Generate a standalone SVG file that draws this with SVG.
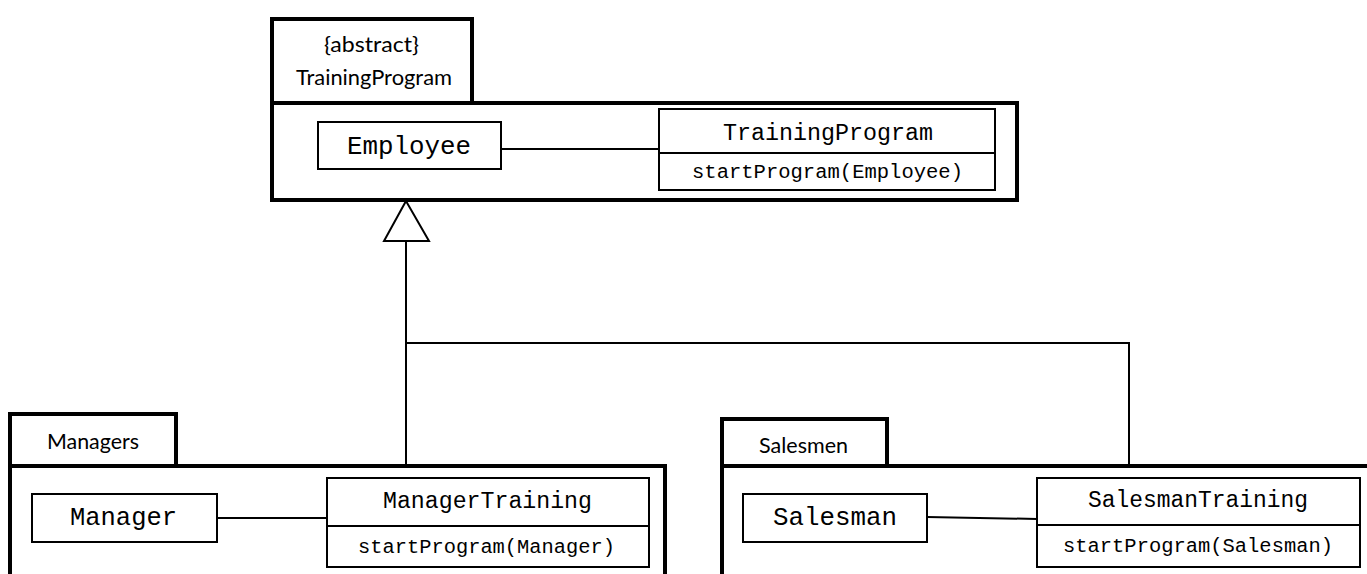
<svg xmlns="http://www.w3.org/2000/svg" width="1367" height="574" viewBox="0 0 1367 574">
<style>
.pkg{fill:none;stroke:#000;stroke-width:4}
.cls{fill:#fff;stroke:#000;stroke-width:2}
.con{fill:none;stroke:#000;stroke-width:2}
.sans{font-family:Lato,"Open Sans","Liberation Sans",sans-serif;font-size:20.5px;fill:#000}
.mono{font-family:"Liberation Mono","Courier New",monospace;fill:#000}
.obj{font-size:25.5px}
.cn{font-size:23px}
.mt{font-size:20.5px}
</style>
<rect width="1367" height="574" fill="#fff"/>
<g id="pkg-training">
<rect class="pkg" x="272" y="19" width="200" height="84"/>
<rect class="pkg" x="272" y="103" width="745" height="97"/>
<text class="sans" x="324" y="52" textLength="95" lengthAdjust="spacingAndGlyphs">{abstract}</text>
<text class="sans" x="296" y="85" textLength="156" lengthAdjust="spacingAndGlyphs">TrainingProgram</text>
</g>
<g id="employee">
<rect class="cls" x="318" y="122" width="183" height="47"/>
<text class="mono obj" x="347" y="154" textLength="124" lengthAdjust="spacingAndGlyphs">Employee</text>
</g>
<g id="trainingprogram">
<rect class="cls" x="659" y="109" width="336" height="81"/>
<line class="con" x1="659" y1="153" x2="995" y2="153"/>
<text class="mono cn" x="723" y="140" textLength="210" lengthAdjust="spacingAndGlyphs">TrainingProgram</text>
<text class="mono mt" x="692" y="178" textLength="271" lengthAdjust="spacingAndGlyphs">startProgram(Employee)</text>
</g>
<g id="pkg-managers">
<rect class="pkg" x="10" y="414" width="166" height="52"/>
<path class="pkg" d="M10,580 V466 H665 V580"/>
<text class="sans" x="47" y="449" textLength="92" lengthAdjust="spacingAndGlyphs">Managers</text>
</g>
<g id="manager">
<rect class="cls" x="32" y="494" width="185" height="48"/>
<text class="mono obj" x="70" y="525" textLength="107" lengthAdjust="spacingAndGlyphs">Manager</text>
</g>
<g id="managertraining">
<rect class="cls" x="327" y="478" width="322" height="89"/>
<line class="con" x1="327" y1="526" x2="649" y2="526"/>
<text class="mono cn" x="383" y="508" textLength="209" lengthAdjust="spacingAndGlyphs">ManagerTraining</text>
<text class="mono mt" x="358" y="553" textLength="257" lengthAdjust="spacingAndGlyphs">startProgram(Manager)</text>
</g>
<g id="pkg-salesmen">
<rect class="pkg" x="722" y="419" width="165" height="47"/>
<path class="pkg" d="M722,580 V466 H1372"/>
<text class="sans" x="759" y="453" textLength="89" lengthAdjust="spacingAndGlyphs">Salesmen</text>
</g>
<g id="salesman">
<rect class="cls" x="743" y="494" width="184" height="48"/>
<text class="mono obj" x="773" y="525" textLength="124" lengthAdjust="spacingAndGlyphs">Salesman</text>
</g>
<g id="salesmantraining">
<rect class="cls" x="1037" y="478" width="323" height="89"/>
<line class="con" x1="1037" y1="525" x2="1360" y2="525"/>
<text class="mono cn" x="1088" y="507" textLength="220" lengthAdjust="spacingAndGlyphs">SalesmanTraining</text>
<text class="mono mt" x="1063" y="552" textLength="270" lengthAdjust="spacingAndGlyphs">startProgram(Salesman)</text>
</g>
<g id="connectors">
<line class="con" x1="501" y1="149" x2="659" y2="149"/>
<line class="con" x1="217" y1="518" x2="327" y2="518"/>
<line class="con" x1="927" y1="517" x2="1037" y2="519"/>
<polyline class="con" points="406,466 406,241"/>
<polyline class="con" points="406,343 1129,343 1129,466"/>
<polygon points="406,201 384,241 429,241" fill="#fff" stroke="#000" stroke-width="2"/>
</g>
</svg>
